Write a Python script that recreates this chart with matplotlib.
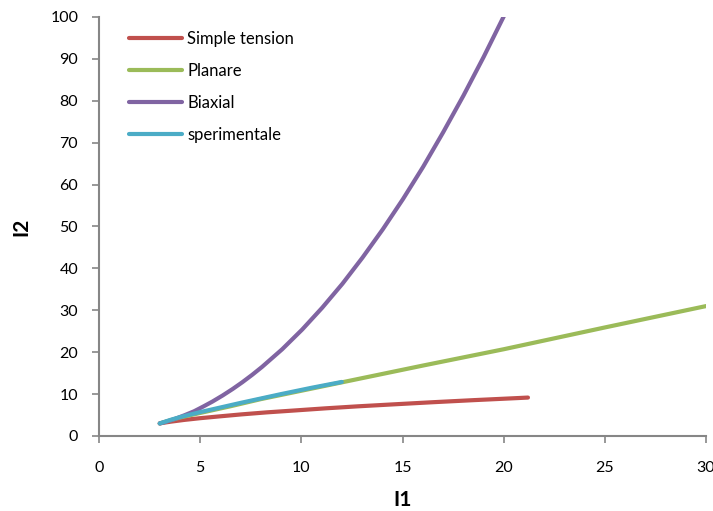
import matplotlib.pyplot as plt

plt.rcParams['font.family'] = ['Lato', 'DejaVu Sans']

# valori (I1, I2)
x_tension = [3.0, 3.16, 3.58, 4.2, 5.0, 6.0, 7.05, 8.3, 9.7, 11.2, 12.8, 14.6, 16.5, 18.5, 20.7, 21.2]
y_tension = [3.0, 3.14, 3.44, 3.83, 4.25, 4.7, 5.16, 5.64, 6.1, 6.6, 7.08, 7.56, 8.06, 8.55, 9.05, 9.17]

x_planare = [3.0, 3.5, 4.0, 5.0, 6.5, 8.0, 10.0, 12.0, 16.0, 20.0, 25.0, 30.0]
y_planare = [3.0, 3.7, 4.4, 5.5, 7.1, 8.8, 10.8, 12.8, 16.8, 20.7, 25.9, 31.0]

x_biax = [3.0, 3.14, 3.44, 3.83, 4.25, 4.7, 5.16, 5.6, 6.11, 6.6, 7.08, 7.57, 8.06,
          9.05, 10.04, 11.03, 12.03, 13.02, 14.02, 15.02, 16.02, 17.01, 18.01, 19.01, 20.01]
y_biax = [3.0, 3.16, 3.58, 4.21, 5.0, 5.9, 7.05, 8.2, 9.67, 11.2, 12.82, 14.6, 16.5,
          20.69, 25.4, 30.61, 36.33, 42.56, 49.29, 56.52, 64.25, 72.49, 81.22, 90.46, 100.2]

x_sper = [3.0, 3.5, 4.0, 5.0, 6.0, 7.0, 8.0, 9.0, 10.5, 12.0]
y_sper = [3.0, 3.8, 4.5, 5.7, 6.8, 7.9, 8.95, 10.0, 11.5, 12.9]

fig = plt.figure(figsize=(7.13, 5.11), dpi=100)
ax = fig.add_axes([0.1389, 0.1468, 0.8513, 0.82])

lw = 3.0
ax.plot(x_tension, y_tension, color='#C0504D', lw=lw, solid_capstyle='round', label='Simple tension')
ax.plot(x_planare, y_planare, color='#9BBB59', lw=lw, solid_capstyle='round', label='Planare')
ax.plot(x_biax, y_biax, color='#8064A2', lw=lw, solid_capstyle='round', label='Biaxial')
ax.plot(x_sper, y_sper, color='#4BACC6', lw=lw, solid_capstyle='round', label='sperimentale')

ax.set_xlim(0, 30)
ax.set_ylim(0, 100)
ax.set_xticks(range(0, 31, 5))
ax.set_yticks(range(0, 101, 10))

for s in ['top', 'right']:
    ax.spines[s].set_visible(False)
for s in ['left', 'bottom']:
    ax.spines[s].set_color('#868686')
    ax.spines[s].set_linewidth(1.5)

ax.tick_params(axis='x', direction='out', length=5, width=1.2, color='#868686', pad=13, labelsize=11.5)
ax.tick_params(axis='y', direction='out', length=5, width=1.2, color='#868686', pad=10, labelsize=11.5)

ax.set_xlabel('I1', fontsize=15, fontweight='bold', va='center', ha='center')
ax.set_ylabel('I2', fontsize=15, fontweight='bold', va='center', ha='center')
ax.xaxis.set_label_coords(0.5, -0.153)
ax.yaxis.set_label_coords(-0.1285, 0.5)

ax.legend(loc='upper left', bbox_to_anchor=(0.049, 0.966), frameon=False, fontsize=12,
          handlelength=3.2, handletextpad=0.3, labelspacing=0.95, borderpad=0, borderaxespad=0)

fig.savefig('out.png', dpi=100)
